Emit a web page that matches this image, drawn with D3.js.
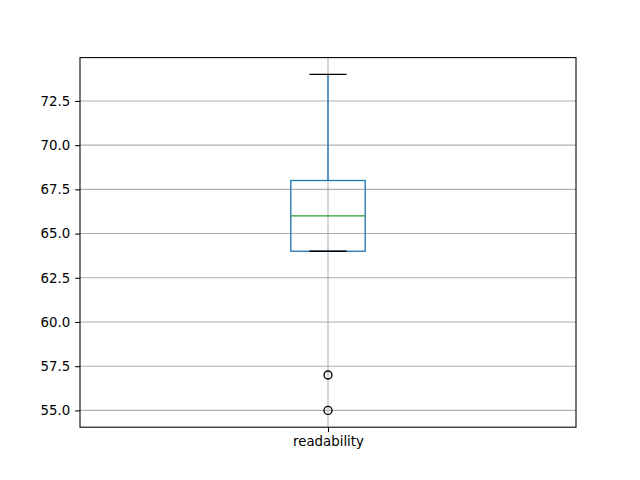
<!DOCTYPE html>
<html>
<head>
<meta charset="utf-8">
<script src="https://cdn.jsdelivr.net/npm/d3@7"></script>
<style>
body { margin: 0; background: #fff; }
svg { display: block; }
text { font-family: "DejaVu Sans", sans-serif; }
</style>
</head>
<body>
<svg id="chart" width="640" height="480"></svg>
<script>
// Data
const categories = ["readability"];
const q1 = [64];
const median = [66];
const q3 = [68];
const whiskerLow = [64];
const whiskerHigh = [74];
const outliers = [[57, 55]];
const yTicks = [55.0, 57.5, 60.0, 62.5, 65.0, 67.5, 70.0, 72.5];

const W = 640, H = 480;
const mLeft = 80, mRight = 576, mTop = 57.6, mBottom = 427.2;

const svg = d3.select("#chart");
svg.append("rect").attr("width", W).attr("height", H).attr("fill", "#fff");

const x = d3.scaleLinear().domain([0.5, 1.5]).range([mLeft, mRight]);
const y = d3.scaleLinear().domain([54.05, 74.95]).range([mBottom, mTop]);

// Grid
const grid = svg.append("g");
grid.selectAll("line.h").data(yTicks).enter().append("line")
  .attr("x1", mLeft).attr("x2", mRight)
  .attr("y1", d => y(d)).attr("y2", d => y(d))
  .attr("stroke", "#b0b0b0").attr("stroke-width", 1.07);
grid.selectAll("line.v").data(categories).enter().append("line")
  .attr("x1", (d, i) => x(i + 1)).attr("x2", (d, i) => x(i + 1))
  .attr("y1", mTop).attr("y2", mBottom)
  .attr("stroke", "#b0b0b0").attr("stroke-width", 1.07);

// Boxes
const bw = 0.15;
const g = svg.append("g");
categories.forEach((c, i) => {
  const p = i + 1;
  const blue = "#1f77b4";
  g.append("rect")
    .attr("x", x(p - bw / 2)).attr("width", x(p + bw / 2) - x(p - bw / 2))
    .attr("y", y(q3[i])).attr("height", y(q1[i]) - y(q3[i]))
    .attr("fill", "none").attr("stroke", blue).attr("stroke-width", 1.33);
  g.append("line").attr("x1", x(p)).attr("x2", x(p))
    .attr("y1", y(q3[i])).attr("y2", y(whiskerHigh[i]))
    .attr("stroke", blue).attr("stroke-width", 1.33);
  g.append("line").attr("x1", x(p)).attr("x2", x(p))
    .attr("y1", y(q1[i])).attr("y2", y(whiskerLow[i]))
    .attr("stroke", blue).attr("stroke-width", 1.33);
  [whiskerLow[i], whiskerHigh[i]].forEach(v => {
    g.append("line").attr("x1", x(p - bw / 4)).attr("x2", x(p + bw / 4))
      .attr("y1", y(v)).attr("y2", y(v))
      .attr("stroke", "#000").attr("stroke-width", 1.33);
  });
  g.append("line").attr("x1", x(p - bw / 2)).attr("x2", x(p + bw / 2))
    .attr("y1", y(median[i])).attr("y2", y(median[i]))
    .attr("stroke", "#2ca02c").attr("stroke-width", 1.33);
  g.selectAll("circle.o" + i).data(outliers[i]).enter().append("circle")
    .attr("cx", x(p)).attr("cy", d => y(d)).attr("r", 4)
    .attr("fill", "none").attr("stroke", "#000").attr("stroke-width", 1.33);
});

// Axes
const yAxis = d3.axisLeft(y).tickValues(yTicks).tickFormat(d3.format(".1f")).tickSize(4.9).tickPadding(4.9);
const ya = svg.append("g").attr("transform", `translate(${mLeft},0)`).call(yAxis);
ya.select(".domain").remove();
ya.selectAll("line").attr("stroke", "#000").attr("stroke-width", 1.07);
ya.selectAll("text").attr("font-size", "13.33px").attr("fill", "#000").attr("font-family", "DejaVu Sans, sans-serif");

const xAxis = d3.axisBottom(x).tickValues(categories.map((c, i) => i + 1)).tickFormat((d) => categories[d - 1]).tickSize(4.9).tickPadding(4.9);
const xa = svg.append("g").attr("transform", `translate(0,${mBottom})`).call(xAxis);
xa.select(".domain").remove();
xa.selectAll("line").attr("stroke", "#000").attr("stroke-width", 1.07);
xa.selectAll("text").attr("font-size", "13.33px").attr("fill", "#000").attr("font-family", "DejaVu Sans, sans-serif");

// Spines
svg.append("rect").attr("x", mLeft).attr("y", mTop).attr("width", mRight - mLeft).attr("height", mBottom - mTop)
  .attr("fill", "none").attr("stroke", "#000").attr("stroke-width", 1.07);
</script>
</body>
</html>
